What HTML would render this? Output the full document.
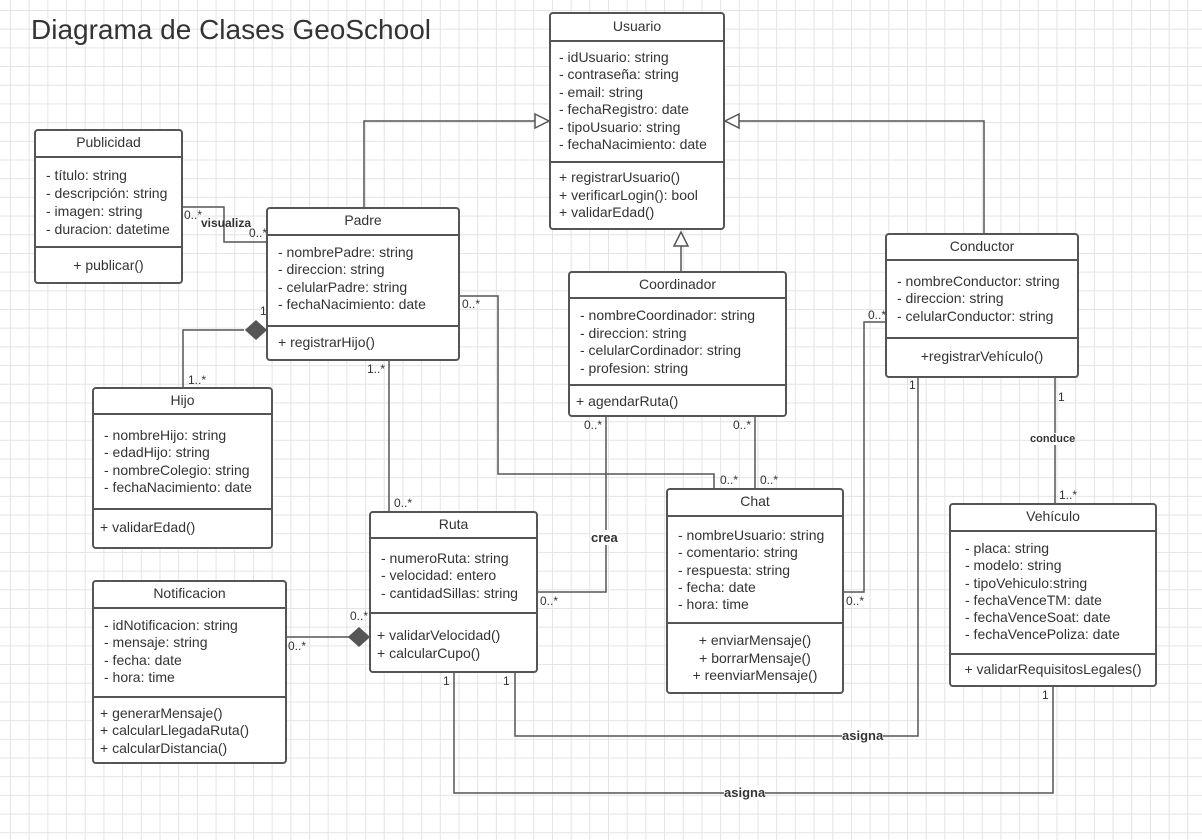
<!DOCTYPE html>
<html><head><meta charset="utf-8"><style>
body{margin:0;width:1202px;height:840px;overflow:hidden;font-family:"Liberation Sans",sans-serif;color:#333;
background-color:#fff;background-image:linear-gradient(#e4e4e4 1px,transparent 1px),linear-gradient(90deg,#e4e4e4 1px,transparent 1px);background-size:18.7px 18.7px;background-position:10px 10px;position:relative}
.b{position:absolute;border:2px solid #555;border-radius:4px;background:#fff;box-sizing:border-box;font-size:14px}
.h{position:absolute;left:0;right:0;text-align:center;border-bottom:2px solid #555;box-sizing:border-box}
.d{position:absolute;left:0;right:0;border-top:2px solid #555}
.t{position:absolute;white-space:nowrap;font-size:14px}
.l{position:absolute;font-size:12px;white-space:nowrap}
.bl{position:absolute;font-size:12px;font-weight:bold;background:#fff;white-space:nowrap}
svg{position:absolute;left:0;top:0}
</style></head><body>
<div style="position:absolute;left:31px;top:14px;font-size:28px;color:#333">Diagrama de Clases GeoSchool</div>
<svg width="1202" height="840" fill="none" stroke="#555" stroke-width="1.5">
<polyline points="364,207 364,121 535,121"/><polygon points="535,114 549,121 535,128" fill="#fff"/>
<polyline points="984,233 984,121 739,121"/><polygon points="739,114 725,121 739,128" fill="#fff"/>
<line x1="681" y1="271" x2="681" y2="246"/><polygon points="674,246 681,232 688,246" fill="#fff"/>
<polyline points="183,207 224,207 224,242 266,242"/>
<polyline points="244,330 183,330 183,387"/><polygon points="266,330 256,321 246,330 256,339" fill="#555"/>
<line x1="389" y1="361" x2="389" y2="511"/>
<polyline points="460,296 498,296 498,474 714,474 714,488"/>
<polyline points="606,417 606,592 538,592"/>
<line x1="755" y1="417" x2="755" y2="488"/>
<polyline points="885,322 864,322 864,592 844,592"/>
<line x1="1055" y1="378" x2="1055" y2="503"/>
<polyline points="287,637 349,637"/><polygon points="369,637 359,628 349,637 359,646" fill="#555"/>
<polyline points="515,673 515,736 918,736 918,378"/>
<polyline points="454,673 454,793 1053,793 1053,687"/>
</svg>

<div class="b" style="left:549px;top:12px;width:176px;height:218px"><div class="h" style="top:0;height:28px;line-height:24px">Usuario</div>
<div class="t" style="left:8px;top:35px;line-height:17.4px">- idUsuario: string<br>- contraseña: string<br>- email: string<br>- fechaRegistro: date<br>- tipoUsuario: string<br>- fechaNacimiento: date</div>
<div class="d" style="top:147px"></div>
<div class="t" style="left:8px;top:155px;line-height:17.5px">+ registrarUsuario()<br>+ verificarLogin(): bool<br>+ validarEdad()</div></div>

<div class="b" style="left:34px;top:129px;width:149px;height:155px"><div class="h" style="top:0;height:27px;line-height:23px">Publicidad</div>
<div class="t" style="left:10px;top:35px;line-height:18px">- título: string<br>- descripción: string<br>- imagen: string<br>- duracion: datetime</div>
<div class="d" style="top:115px"></div>
<div class="t" style="left:0;right:0;text-align:center;top:126px">+ publicar()</div></div>

<div class="b" style="left:266px;top:207px;width:194px;height:154px"><div class="h" style="top:0;height:27px;line-height:23px">Padre</div>
<div class="t" style="left:10px;top:35px;line-height:17.4px">- nombrePadre: string<br>- direccion: string<br>- celularPadre: string<br>- fechaNacimiento: date</div>
<div class="d" style="top:116px"></div>
<div class="t" style="left:10px;top:125px">+ registrarHijo()</div></div>

<div class="b" style="left:568px;top:271px;width:219px;height:146px"><div class="h" style="top:0;height:26px;line-height:22px">Coordinador</div>
<div class="t" style="left:10px;top:34px;line-height:17.5px">- nombreCoordinador: string<br>- direccion: string<br>- celularCordinador: string<br>- profesion: string</div>
<div class="d" style="top:111px"></div>
<div class="t" style="left:6px;top:120px">+ agendarRuta()</div></div>

<div class="b" style="left:885px;top:233px;width:194px;height:145px"><div class="h" style="top:0;height:26px;line-height:22px">Conductor</div>
<div class="t" style="left:10px;top:38px;line-height:17.3px">- nombreConductor: string<br>- direccion: string<br>- celularConductor: string</div>
<div class="d" style="top:102px"></div>
<div class="t" style="left:0;right:0;text-align:center;top:113px">+registrarVehículo()</div></div>

<div class="b" style="left:92px;top:387px;width:181px;height:162px"><div class="h" style="top:0;height:26px;line-height:22px">Hijo</div>
<div class="t" style="left:10px;top:38px;line-height:17.4px">- nombreHijo: string<br>- edadHijo: string<br>- nombreColegio: string<br>- fechaNacimiento: date</div>
<div class="d" style="top:119px"></div>
<div class="t" style="left:6px;top:130px">+ validarEdad()</div></div>

<div class="b" style="left:369px;top:511px;width:169px;height:162px"><div class="h" style="top:0;height:26px;line-height:22px">Ruta</div>
<div class="t" style="left:10px;top:37px;line-height:17.3px">- numeroRuta: string<br>- velocidad: entero<br>- cantidadSillas: string</div>
<div class="d" style="top:99px"></div>
<div class="t" style="left:6px;top:113px;line-height:18px">+ validarVelocidad()<br>+ calcularCupo()</div></div>

<div class="b" style="left:666px;top:488px;width:178px;height:206px"><div class="h" style="top:0;height:27px;line-height:23px">Chat</div>
<div class="t" style="left:10px;top:37px;line-height:17.3px">- nombreUsuario: string<br>- comentario: string<br>- respuesta: string<br>- fecha: date<br>- hora: time</div>
<div class="d" style="top:132px"></div>
<div class="t" style="left:0;right:0;text-align:center;top:142px;line-height:17.5px">+ enviarMensaje()<br>+ borrarMensaje()<br>+ reenviarMensaje()</div></div>

<div class="b" style="left:949px;top:503px;width:208px;height:184px"><div class="h" style="top:0;height:27px;line-height:23px">Vehículo</div>
<div class="t" style="left:14px;top:35px;line-height:17.3px">- placa: string<br>- modelo: string<br>- tipoVehiculo:string<br>- fechaVenceTM: date<br>- fechaVenceSoat: date<br>- fechaVencePoliza: date</div>
<div class="d" style="top:148px"></div>
<div class="t" style="left:0;right:0;text-align:center;top:156px">+ validarRequisitosLegales()</div></div>

<div class="b" style="left:92px;top:580px;width:195px;height:184px"><div class="h" style="top:0;height:27px;line-height:23px">Notificacion</div>
<div class="t" style="left:10px;top:35px;line-height:17.4px">- idNotificacion: string<br>- mensaje: string<br>- fecha: date<br>- hora: time</div>
<div class="d" style="top:114px"></div>
<div class="t" style="left:6px;top:123px;line-height:17.3px">+ generarMensaje()<br>+ calcularLlegadaRuta()<br>+ calcularDistancia()</div></div>

<div class="l" style="left:184px;top:208px">0..*</div>
<div class="bl" style="left:201px;top:216px;background:none">visualiza</div>
<div class="l" style="left:249px;top:226px">0..*</div>
<div class="l" style="left:260px;top:304px">1</div>
<div class="l" style="left:188px;top:373px">1..*</div>
<div class="l" style="left:367px;top:362px">1..*</div>
<div class="l" style="left:394px;top:496px">0..*</div>
<div class="l" style="left:462px;top:297px">0..*</div>
<div class="l" style="left:720px;top:473px">0..*</div>
<div class="l" style="left:760px;top:473px">0..*</div>
<div class="l" style="left:584px;top:418px">0..*</div>
<div class="l" style="left:733px;top:418px">0..*</div>
<div class="l" style="left:540px;top:594px">0..*</div>
<div class="bl" style="left:591px;top:530px;font-size:13px">crea</div>
<div class="l" style="left:868px;top:308px">0..*</div>
<div class="l" style="left:846px;top:594px">0..*</div>
<div class="l" style="left:1058px;top:390px">1</div>
<div class="bl" style="left:1030px;top:433px;font-size:11px">conduce</div>
<div class="l" style="left:1059px;top:488px">1..*</div>
<div class="l" style="left:288px;top:639px">0..*</div>
<div class="l" style="left:350px;top:609px">0..*</div>
<div class="l" style="left:503px;top:674px">1</div>
<div class="l" style="left:443px;top:674px">1</div>
<div class="l" style="left:909px;top:378px">1</div>
<div class="l" style="left:1042px;top:688px">1</div>
<div class="bl" style="left:842px;top:728px;font-size:13px">asigna</div>
<div class="bl" style="left:724px;top:785px;font-size:13px">asigna</div>
</body></html>
